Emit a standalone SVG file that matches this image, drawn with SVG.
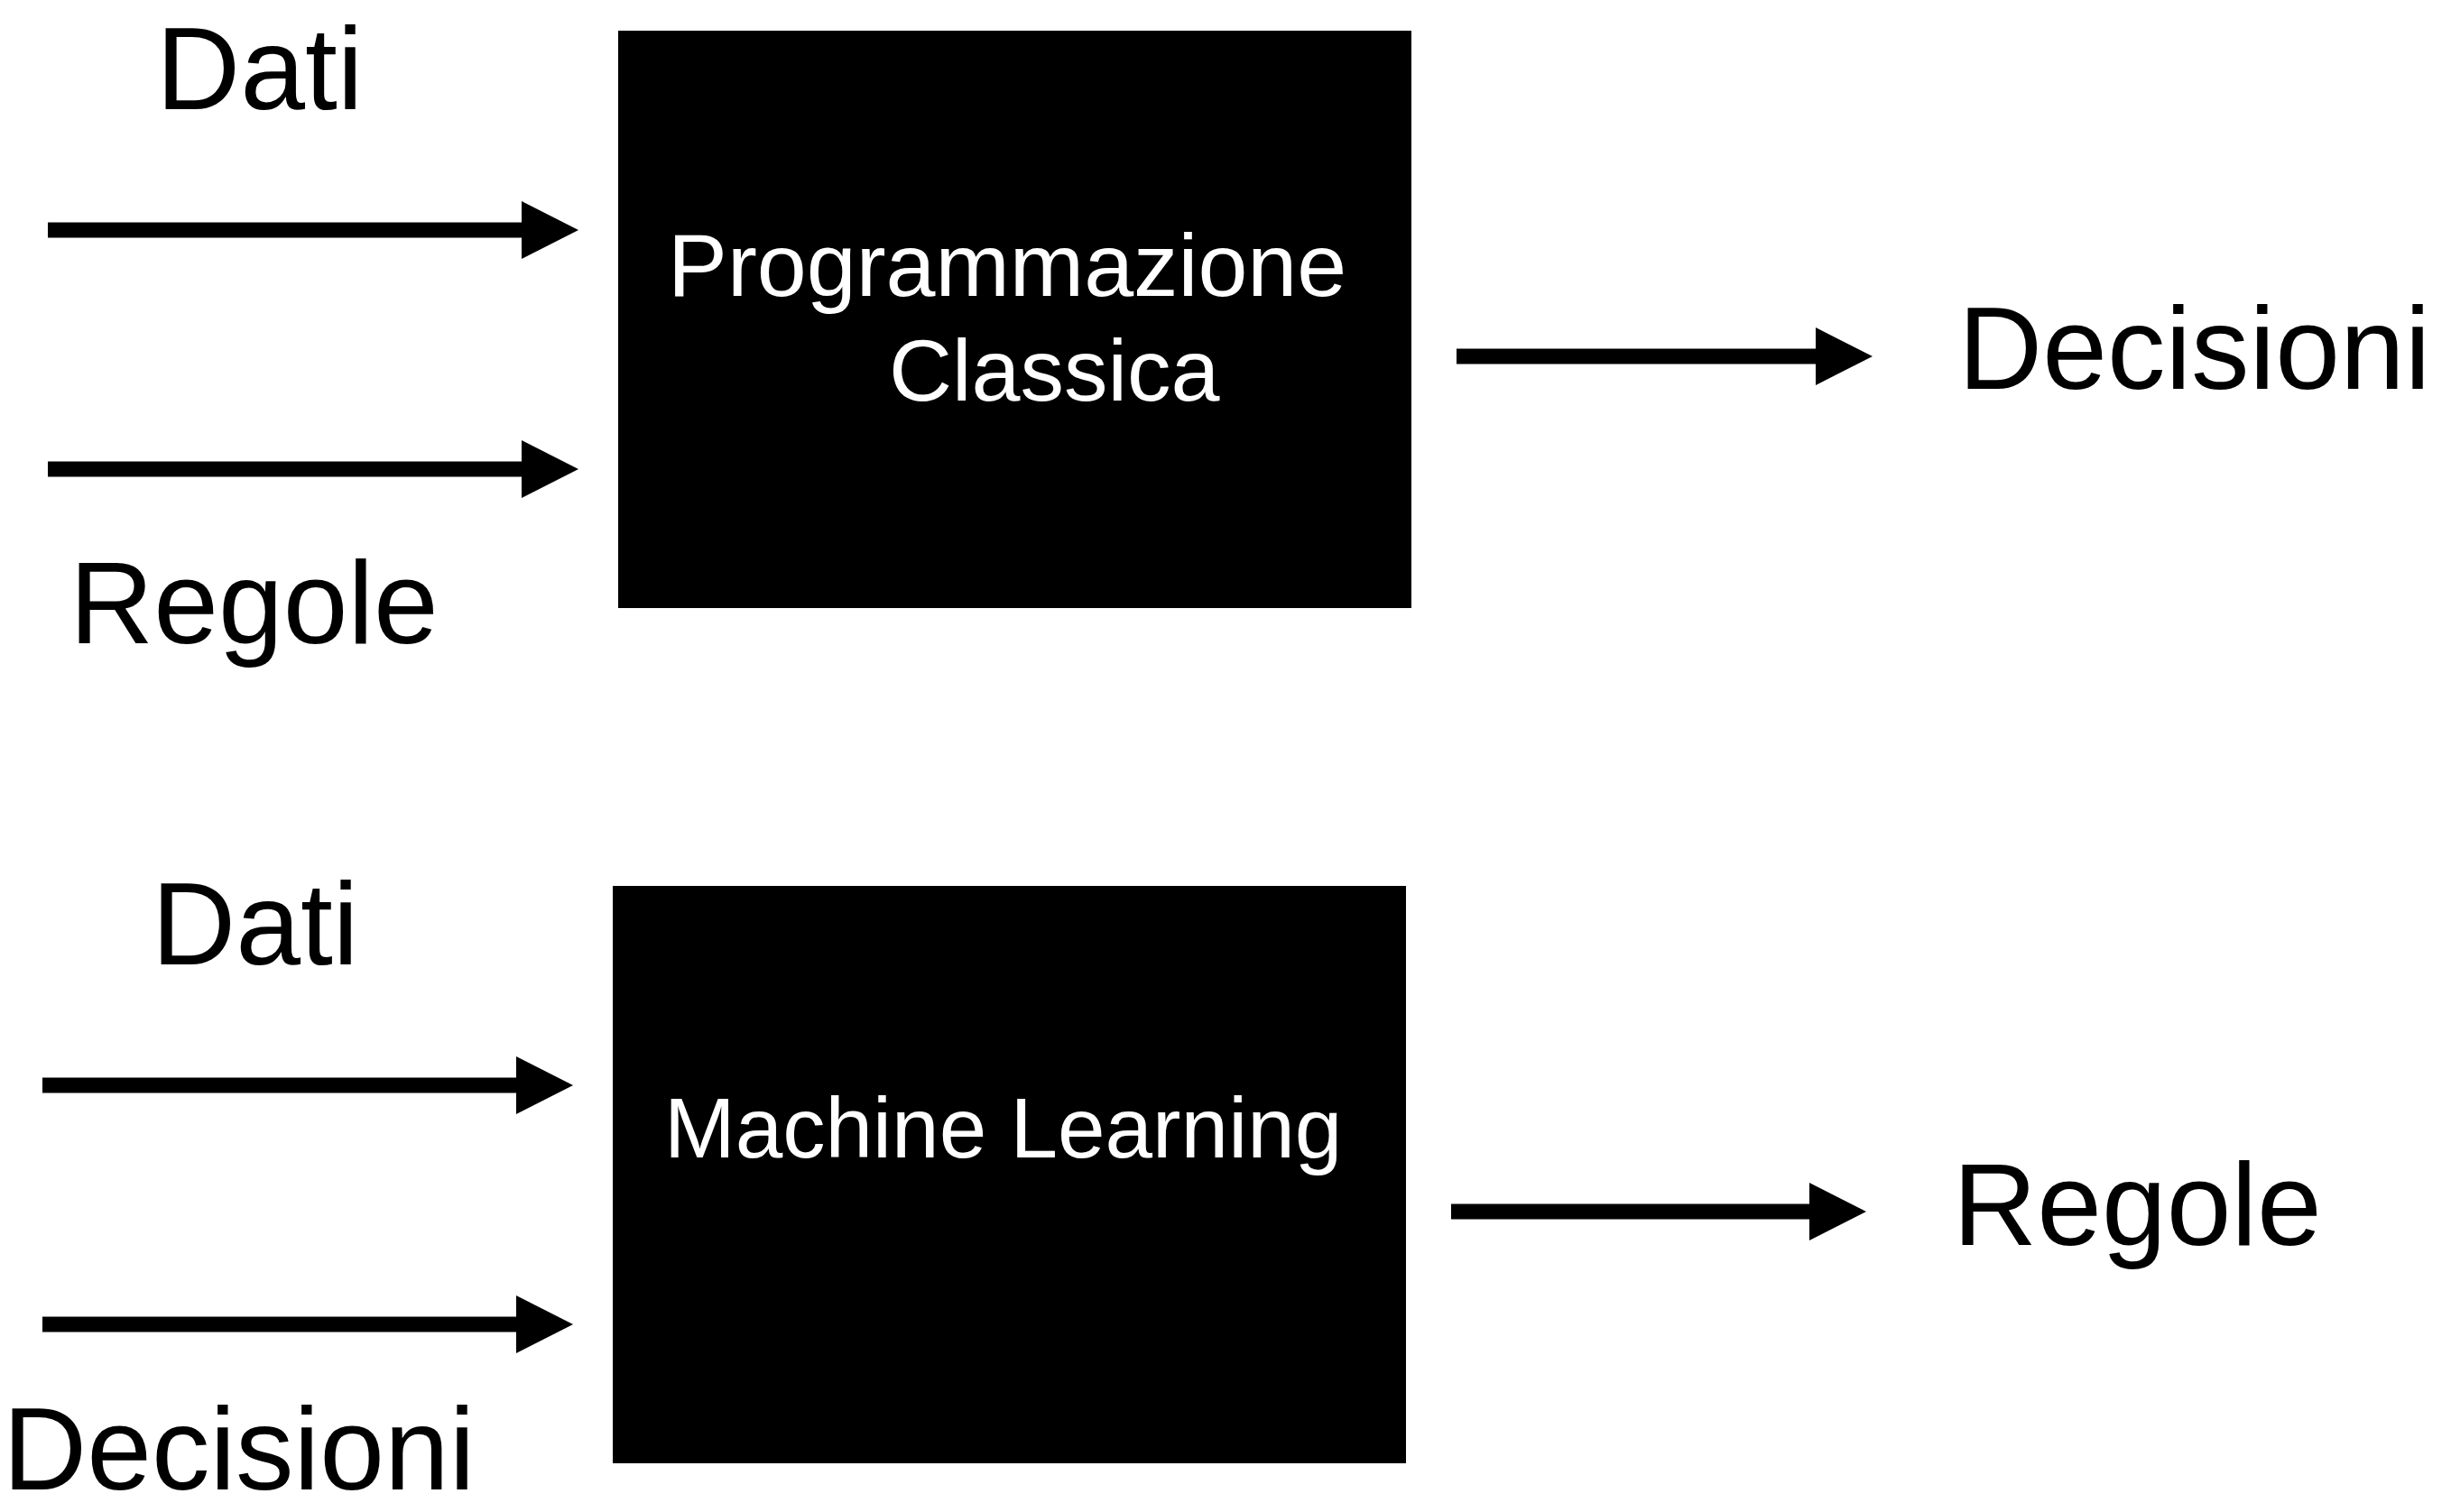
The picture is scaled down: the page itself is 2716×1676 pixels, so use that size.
<svg xmlns="http://www.w3.org/2000/svg" width="2716" height="1676" viewBox="0 0 2716 1676">
  <defs>
    <marker id="arrow" markerUnits="userSpaceOnUse" viewBox="0 -32 63 64" markerWidth="63" markerHeight="64" refX="0" refY="0" orient="auto">
      <path d="M0,-32 L63,0 L0,32 Z" fill="#000"/>
    </marker>
  </defs>
  <style>
    .lbl { font-family: "Liberation Sans", Arial, sans-serif; font-size: 129px; fill: #000; }
    .box { fill: #000; }
    .boxtxt { font-family: "Liberation Sans", Arial, sans-serif; font-size: 97px; fill: #fff; }
    .conn { stroke: #000; stroke-width: 17; fill: none; marker-end: url(#arrow); }
  </style>
  <rect width="2716" height="1676" fill="#fff"/>

  <g id="node-programmazione">
    <rect class="box" x="685" y="34" width="879" height="640"/>
    <text class="boxtxt" x="740" y="328" style="font-size:98.8px">Programmazione</text>
    <text class="boxtxt" x="985" y="444">Classica</text>
  </g>

  <g id="node-ml">
    <rect class="box" x="679" y="982" width="879" height="640"/>
    <text class="boxtxt" x="736" y="1283" style="font-size:94.5px">Machine Learning</text>
  </g>

  <g id="labels">
    <text class="lbl" x="173" y="121">Dati</text>
    <text class="lbl" x="77" y="713">Regole</text>
    <text class="lbl" x="2170" y="431">Decisioni</text>
    <text class="lbl" x="168" y="1069">Dati</text>
    <text class="lbl" x="3" y="1651">Decisioni</text>
    <text class="lbl" x="2164" y="1380">Regole</text>
  </g>

  <g id="connectors">
    <line class="conn" x1="53" y1="255" x2="578" y2="255"/>
    <line class="conn" x1="53" y1="520" x2="578" y2="520"/>
    <line class="conn" x1="1614" y1="395" x2="2012" y2="395"/>
    <line class="conn" x1="47" y1="1203" x2="572" y2="1203"/>
    <line class="conn" x1="47" y1="1468" x2="572" y2="1468"/>
    <line class="conn" x1="1608" y1="1343" x2="2005" y2="1343"/>
  </g>
</svg>
